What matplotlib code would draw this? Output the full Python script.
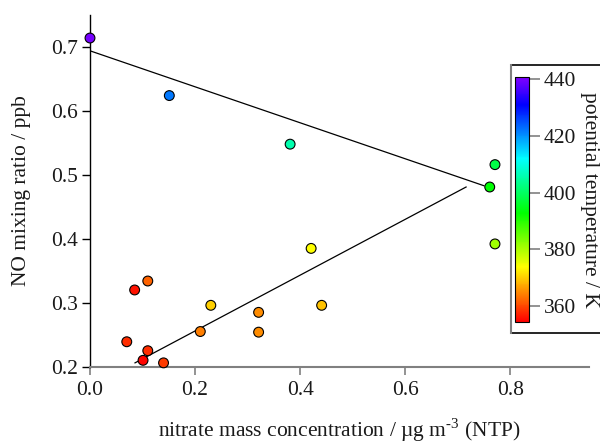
import matplotlib.pyplot as plt
import numpy as np
from matplotlib.colors import LinearSegmentedColormap, hsv_to_rgb
from matplotlib.lines import Line2D

plt.rcParams['font.family'] = ['Liberation Serif', 'DejaVu Serif']
plt.rcParams['mathtext.fontset'] = 'custom'
plt.rcParams['mathtext.rm'] = 'Liberation Serif'

# nitrate (ug m-3), NO (ppb), potential temperature (K)
nitrate = [0.00, 0.151, 0.381, 0.771, 0.761, 0.771, 0.421, 0.441, 0.230,
           0.321, 0.321, 0.210, 0.110, 0.085, 0.070, 0.110, 0.101, 0.140]
no_ppb = [0.714, 0.624, 0.548, 0.516, 0.481, 0.392, 0.385, 0.296, 0.296,
          0.285, 0.254, 0.255, 0.334, 0.320, 0.239, 0.225, 0.210, 0.206]
theta = [440, 422, 406, 398, 393, 381, 374, 369, 370,
         365, 365, 364, 362, 356, 358, 358, 355, 359]

# fitted lines (end points)
fit_upper_x = [0.0, 0.750]
fit_upper_y = [0.694, 0.483]
fit_lower_x = [0.0857, 0.716]
fit_lower_y = [0.206, 0.481]

theta_min, theta_max = 354.5, 440.7
cb_ticks = [360, 380, 400, 420, 440]

# Igor-like rainbow: red -> yellow -> green -> cyan -> blue -> purple
hues = np.linspace(0, 0.75, 64)
rgb = hsv_to_rgb(np.column_stack([hues, np.ones_like(hues), np.ones_like(hues)]))
cmap = LinearSegmentedColormap.from_list('rainbow_igor', rgb)

FS = 15.5
W, H = 600, 441
fig = plt.figure(figsize=(6, 4.41), dpi=100)
ax = fig.add_axes([90 / W, 1 - 366.7 / H, (589 - 90) / W, (366.7 - 15) / H])

ax.plot(fit_upper_x, fit_upper_y, color='black', lw=0.9)
ax.plot(fit_lower_x, fit_lower_y, color='black', lw=0.9)
ax.scatter(nitrate, no_ppb, c=theta, cmap=cmap, vmin=theta_min, vmax=theta_max,
           s=50, edgecolors='black', linewidths=0.8, zorder=3, clip_on=False)

ax.set_xlim(0, 0.95)
ax.set_ylim(0.2, 0.75)
ax.set_xticks([0.0, 0.2, 0.4, 0.6, 0.8])
ax.set_yticks([0.2, 0.3, 0.4, 0.5, 0.6, 0.7])
ax.xaxis.set_major_formatter(plt.FormatStrFormatter('%.1f'))
ax.yaxis.set_major_formatter(plt.FormatStrFormatter('%.1f'))
ax.spines['top'].set_visible(False)
ax.spines['right'].set_visible(False)
ax.spines['bottom'].set_color('#808080')
ax.spines['bottom'].set_linewidth(1.5)
ax.spines['left'].set_linewidth(1.0)
ax.tick_params(axis='x', colors='#808080', labelcolor='#1a1a1a', length=6, width=1.2,
               labelsize=FS, pad=4)
ax.tick_params(axis='y', length=6, width=1.0, labelsize=FS, pad=3, labelcolor='#1a1a1a')
ax.set_xlabel('nitrate mass concentration / µg m$^{\\text{-3}}$ (NTP)', fontsize=FS,
              labelpad=12, color='#1a1a1a')
ax.set_ylabel('NO mixing ratio / ppb', fontsize=FS, labelpad=14, color='#1a1a1a')

# colorbar box
x0, x1 = 511 / W, 1.02
y0, y1 = 1 - 333.3 / H, 1 - 65 / H
fig.add_artist(Line2D([x0, x1], [y1, y1], color='black', lw=1.2))
fig.add_artist(Line2D([x0, x1], [y0, y0], color='black', lw=1.2))
fig.add_artist(Line2D([x0, x0], [y0, y1], color='#808080', lw=1.5))

cax = fig.add_axes([515.3 / W, 1 - 321.7 / H, (528.7 - 515.3) / W, (321.7 - 77.3) / H])
sm = plt.cm.ScalarMappable(cmap=cmap, norm=plt.Normalize(theta_min, theta_max))
cb = fig.colorbar(sm, cax=cax, ticks=cb_ticks)
cb.outline.set_linewidth(0.8)
cax.tick_params(colors='#808080', labelcolor='#1a1a1a', length=8, width=1.2,
                labelsize=FS, pad=3)
cb.set_label('potential temperature / K', rotation=270, fontsize=FS,
             labelpad=16, color='#1a1a1a')

plt.savefig('out.png', dpi=100)
